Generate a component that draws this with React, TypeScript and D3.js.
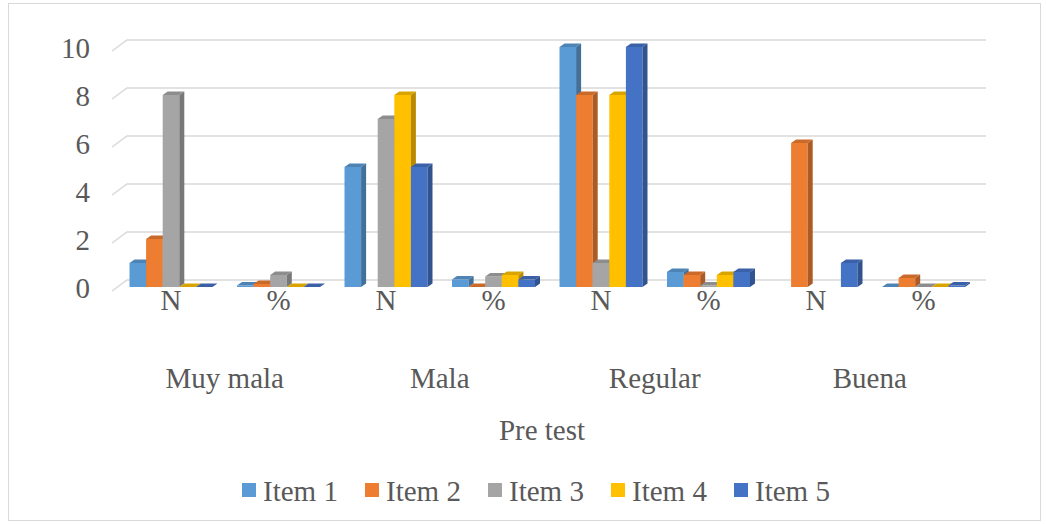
import React, { useEffect } from "react";
import * as d3 from "d3";

const subcats = ["N", "%", "N", "%", "N", "%", "N", "%"];
const groups = ["Muy mala", "Mala", "Regular", "Buena"];
const items = ["Item 1", "Item 2", "Item 3", "Item 4", "Item 5"];
const item1: (number | null)[] = [1, 0.06, 5, 0.31, 10, 0.63, null, 0];
const item2: (number | null)[] = [2, 0.13, null, 0, 8, 0.5, 6, 0.38];
const item3: (number | null)[] = [8, 0.5, 7, 0.44, 1, 0.06, null, 0];
const item4: (number | null)[] = [0, 0, 8, 0.5, 8, 0.5, null, 0];
const item5: (number | null)[] = [0, 0, 5, 0.31, 10, 0.63, 1, 0.06];
const series = [item1, item2, item3, item4, item5];
const colors = ["#5B9BD5", "#ED7D31", "#A5A5A5", "#FFC000", "#4472C4"];
const yTicks = [0, 2, 4, 6, 8, 10];
const axisTitle = "Pre test";

const W = 1046;
const H = 524;
const FONT = "Liberation Serif";
const TXT = "#595959";
const FS = 29;

export default function App() {
  useEffect(() => {
    document.body.style.margin = "0";
  }, []);

  const yFront = d3.scaleLinear().domain([0, 10]).range([291, 51]);
  const yBack = d3.scaleLinear().domain([0, 10]).range([280, 40]);
  const yBar = d3.scaleLinear().domain([0, 10]).range([287, 47]);
  const x = d3
    .scaleBand<number>()
    .domain(d3.range(subcats.length))
    .range([117.25, 977.25])
    .paddingInner(0.228)
    .paddingOuter(0.114);
  const xi = d3.scaleBand<number>().domain(d3.range(items.length)).range([0, x.bandwidth()]);
  const bw = xi.bandwidth();
  const dx = 5;
  const dy = 3.5;
  const gridX0 = 127;
  const gridX1 = 986;
  const diagDx = 15;

  const bars: React.ReactNode[] = [];
  subcats.forEach((_, i) => {
    series.forEach((s, j) => {
      const v = s[i];
      if (v === null || v === undefined) return;
      const c = d3.color(colors[j])!;
      const side = c.darker(0.9).formatHex();
      const top = c.darker(0.45).formatHex();
      const x0 = (x(i) as number) + (xi(j) as number);
      const yt = yBar(v);
      const yb = yBar(0);
      const key = `${i}-${j}`;
      if (v > 0) {
        bars.push(<rect key={key + "f"} x={x0} y={yt} width={bw} height={yb - yt} fill={colors[j]} />);
        bars.push(
          <polygon
            key={key + "s"}
            points={`${x0 + bw},${yt} ${x0 + bw + dx},${yt - dy} ${x0 + bw + dx},${yb - dy} ${x0 + bw},${yb}`}
            fill={side}
          />
        );
      }
      bars.push(
        <polygon
          key={key + "t"}
          points={`${x0},${yt} ${x0 + dx},${yt - dy} ${x0 + bw + dx},${yt - dy} ${x0 + bw},${yt}`}
          fill={top}
        />
      );
    });
  });

  const legendStep = 123;
  const legendX0 = 242;
  const legendY = 490;

  return (
    <svg width={W} height={H} style={{ display: "block" }}>
      <rect x={0} y={0} width={W} height={H} fill="#fff" />
      <rect x={8.5} y={3.5} width={1032} height={517} fill="none" stroke="#D9D9D9" strokeWidth={1} />
      {yTicks.map((t) => (
        <g key={t}>
          <polyline
            points={`${gridX0 - diagDx},${yFront(t)} ${gridX0},${yBack(t)} ${gridX1},${yBack(t)}`}
            fill="none"
            stroke="#D9D9D9"
            strokeWidth={1.5}
          />
          <text
            x={90}
            y={yFront(t) - 3}
            textAnchor="end"
            dominantBaseline="central"
            fontSize={FS}
            fontFamily={FONT}
            fill={TXT}
          >
            {t}
          </text>
        </g>
      ))}
      {bars}
      {subcats.map((s, i) => (
        <text
          key={"sc" + i}
          x={(x(i) as number) + x.bandwidth() / 2}
          y={310}
          textAnchor="middle"
          fontSize={FS}
          fontFamily={FONT}
          fill={TXT}
        >
          {s}
        </text>
      ))}
      {groups.map((g, k) => {
        const a = (x(2 * k) as number) + x.bandwidth() / 2;
        const b = (x(2 * k + 1) as number) + x.bandwidth() / 2;
        return (
          <text key={g} x={(a + b) / 2} y={388} textAnchor="middle" fontSize={FS} fontFamily={FONT} fill={TXT}>
            {g}
          </text>
        );
      })}
      <text x={542} y={440} textAnchor="middle" fontSize={FS} fontFamily={FONT} fill={TXT}>
        {axisTitle}
      </text>
      {items.map((it, j) => (
        <g key={it}>
          <rect x={legendX0 + j * legendStep} y={legendY - 7} width={14} height={14} fill={colors[j]} />
          <text
            x={legendX0 + j * legendStep + 21}
            y={legendY + 1}
            dominantBaseline="central"
            fontSize={FS}
            fontFamily={FONT}
            fill={TXT}
          >
            {it}
          </text>
        </g>
      ))}
    </svg>
  );
}
